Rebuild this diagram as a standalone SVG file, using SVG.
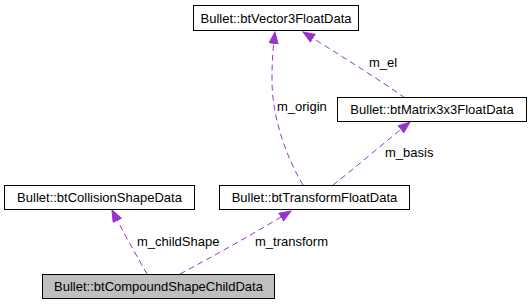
<svg xmlns="http://www.w3.org/2000/svg" width="531" height="305" viewBox="0 0 531 305">
  <style>
    .box { fill: #ffffff; stroke: #000000; stroke-width: 1; }
    .box.sel { fill: #bfbfbf; }
    .lbl { font-family: "Liberation Sans", Arial, sans-serif; font-size: 13px; fill: #000000; text-anchor: middle; }
    .edge { fill: none; stroke: #9a32cd; stroke-width: 1; stroke-dasharray: 6,4; }
    .elbl { font-family: "Liberation Sans", Arial, sans-serif; font-size: 13px; fill: #000000; }
  </style>
  <defs>
    <marker id="arrow" markerUnits="userSpaceOnUse" markerWidth="13" markerHeight="11" refX="12" refY="5" orient="auto">
      <path d="M0.5,0.5 L12,5 L0.5,9.5 z" fill="#9a32cd" stroke="#9a32cd" stroke-width="1"/>
    </marker>
  </defs>
  <rect width="531" height="305" fill="#ffffff"/>

  <g id="connectors">
    <path class="edge" d="M147,274 C138,258 124,234 112,210" marker-end="url(#arrow)"/>
    <path class="edge" d="M180,274 C210,258 255,233 291,211" marker-end="url(#arrow)"/>
    <path class="edge" d="M303,185 C288,160 272,120 272,80 C272,60 273,48 275,32" marker-end="url(#arrow)"/>
    <path class="edge" d="M405,98 C380,80 335,52 303,32" marker-end="url(#arrow)"/>
    <path class="edge" d="M333,185 C355,168 385,142 410,122" marker-end="url(#arrow)"/>
    <text class="elbl" x="137" y="246">m_childShape</text>
    <text class="elbl" x="255" y="246">m_transform</text>
    <text class="elbl" x="277" y="111">m_origin</text>
    <text class="elbl" x="369" y="67">m_el</text>
    <text class="elbl" x="385" y="157">m_basis</text>
  </g>

  <g id="node_vector3">
    <rect class="box" x="193.5" y="5.5" width="165" height="25"/>
    <text class="lbl" x="276" y="23">Bullet::btVector3FloatData</text>
  </g>
  <g id="node_matrix3x3">
    <rect class="box" x="337.5" y="97.5" width="189" height="24"/>
    <text class="lbl" x="432" y="114">Bullet::btMatrix3x3FloatData</text>
  </g>
  <g id="node_collision">
    <rect class="box" x="4.5" y="185.5" width="190" height="24"/>
    <text class="lbl" x="99.5" y="202">Bullet::btCollisionShapeData</text>
  </g>
  <g id="node_transform">
    <rect class="box" x="219.5" y="185.5" width="190" height="24"/>
    <text class="lbl" x="314.5" y="202">Bullet::btTransformFloatData</text>
  </g>
  <g id="node_compound">
    <rect class="box sel" x="42.5" y="274.5" width="232" height="24"/>
    <text class="lbl" x="158.5" y="291">Bullet::btCompoundShapeChildData</text>
  </g>
</svg>
